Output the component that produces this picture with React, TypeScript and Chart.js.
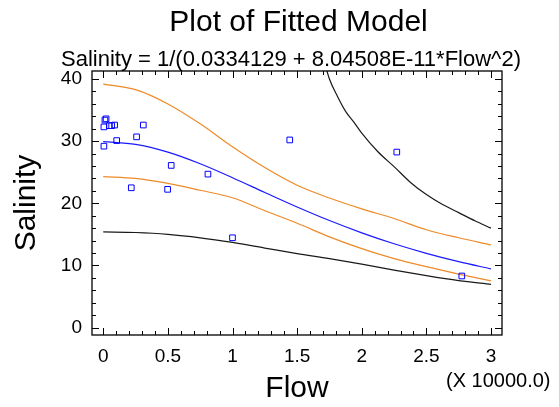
import React, { useEffect, useRef } from "react";
import { Chart, registerables } from "chart.js";

Chart.register(...registerables);

// Observed data (Flow in units of 10000)
const flowObs = [0.005, 0.013, 0.022, 0.047, 0.065, 0.088, 0.005, 0.104, 0.258, 0.31, 0.217, 0.498, 0.526, 0.81, 1.0, 1.443, 2.271, 2.774];
const salinityObs = [32.3, 33.4, 33.6, 32.5, 32.5, 32.6, 29.2, 30.1, 30.7, 32.6, 22.5, 22.25, 26.1, 24.7, 14.45, 30.2, 28.25, 8.3];

// Curves
const curveFlow = [0, 0.25, 0.5, 0.75, 1.0, 1.25, 1.5, 1.75, 2.0, 2.25, 2.5, 2.75, 3.0];
const fittedSalinity = [29.93, 29.48, 28.23, 26.36, 24.12, 21.75, 19.41, 17.23, 15.25, 13.49, 11.95, 10.61, 9.45];
const upperConfidence = [39.2, 38.3, 36.0, 32.8, 29.1, 25.75, 22.9, 20.85, 19.1, 17.55, 15.75, 14.45, 13.3];
const lowerConfidence = [24.3, 24.0, 23.2, 22.1, 20.9, 18.8, 16.8, 14.6, 12.7, 11.1, 9.8, 8.6, 7.5];
const lowerPrediction = [15.4, 15.3, 15.0, 14.45, 13.7, 12.8, 11.9, 11.1, 10.2, 9.25, 8.35, 7.55, 6.95];
const upperPredFlow = [1.7, 1.75, 1.8125, 1.875, 1.9375, 2.0, 2.125, 2.25, 2.375, 2.5, 2.625, 2.75, 2.875, 3.0];
const upperPrediction = [43.6, 40.0, 37.2, 34.8, 33.1, 31.3, 28.3, 25.9, 23.4, 21.4, 19.8, 18.5, 17.2, 16.0];

const titleText = "Plot of Fitted Model";
const subtitleText = "Salinity = 1/(0.0334129 + 8.04508E-11*Flow^2)";
const xTitle = "Flow";
const yTitle = "Salinity";
const xMultiplier = "(X 10000.0)";

const FONT = "'Liberation Sans', Arial, sans-serif";

const toPts = (xs: number[], ys: number[]) => xs.map((x, i) => ({ x, y: ys[i] }));

const framePlugin = {
  id: "framePlugin",
  afterDraw(chart: any) {
    const { ctx, chartArea, scales } = chart;
    const { left, right, top, bottom } = chartArea;
    const xs = scales.x;
    const ys = scales.y;
    ctx.save();
    ctx.strokeStyle = "#000";
    ctx.lineWidth = 1.3;
    ctx.strokeRect(left, top, right - left, bottom - top);
    ctx.lineWidth = 1;
    ctx.beginPath();
    for (let i = 0; i <= 30; i++) {
      const px = Math.round(xs.getPixelForValue(i / 10)) + 0.5;
      const len = i % 5 === 0 ? 7 : 4;
      ctx.moveTo(px, bottom);
      ctx.lineTo(px, bottom - len);
      ctx.moveTo(px, top);
      ctx.lineTo(px, top + len);
    }
    for (let i = 0; i <= 20; i++) {
      const v = i * 2;
      const py = Math.round(ys.getPixelForValue(v)) + 0.5;
      const len = v % 10 === 0 ? 7 : 4;
      ctx.moveTo(left, py);
      ctx.lineTo(left + len, py);
      ctx.moveTo(right, py);
      ctx.lineTo(right - len, py);
    }
    ctx.stroke();

    ctx.fillStyle = "#000";
    ctx.textBaseline = "alphabetic";
    ctx.textAlign = "center";
    ctx.font = `30px ${FONT}`;
    ctx.fillText(titleText, 298.5, 31);
    ctx.font = `22px ${FONT}`;
    ctx.fillText(subtitleText, 291, 66);
    ctx.textAlign = "left";
    ctx.font = `20px ${FONT}`;
    ctx.fillText(xMultiplier, 446, 387);
    ctx.restore();
  },
};

export default function App() {
  const ref = useRef<HTMLCanvasElement | null>(null);
  useEffect(() => {
    if (!ref.current) return;
    const lineDs = (label: string, xs: number[], ys: number[], color: string) => ({
      label,
      data: toPts(xs, ys),
      showLine: true,
      borderColor: color,
      borderWidth: 1.2,
      pointRadius: 0,
      pointHoverRadius: 0,
      fill: false,
      cubicInterpolationMode: "monotone" as const,
    });
    const chart = new Chart(ref.current, {
      type: "scatter",
      data: {
        datasets: [
          {
            label: "Observed",
            data: toPts(flowObs, salinityObs),
            showLine: false,
            pointStyle: "rect",
            pointRadius: 4,
            borderColor: "#0000ff",
            backgroundColor: "rgba(0,0,0,0)",
            borderWidth: 1,
          },
          lineDs("Fitted", curveFlow, fittedSalinity, "#1a1aff"),
          lineDs("Upper confidence", curveFlow, upperConfidence, "rgb(238,138,40)"),
          lineDs("Lower confidence", curveFlow, lowerConfidence, "rgb(238,138,40)"),
          lineDs("Upper prediction", upperPredFlow, upperPrediction, "#1a1a1a"),
          lineDs("Lower prediction", curveFlow, lowerPrediction, "#1a1a1a"),
        ] as any,
      },
      options: {
        animation: false,
        responsive: false,
        events: [],
        layout: { padding: { top: 71, right: 57, left: 0, bottom: 0 } },
        plugins: {
          legend: { display: false },
          tooltip: { enabled: false },
          title: { display: false },
        },
        scales: {
          x: {
            type: "linear",
            min: -0.087,
            max: 3.085,
            afterFit: (s: any) => {
              s.height = 72;
            },
            grid: { display: false, drawTicks: false },
            border: { display: false },
            ticks: {
              stepSize: 0.5,
              includeBounds: false,
              padding: 10,
              color: "#000",
              font: { family: FONT, size: 19 },
              callback: (v: any) => String(Math.round(Number(v) * 10) / 10),
              autoSkip: false,
              maxRotation: 0,
            },
            title: {
              display: true,
              text: xTitle,
              color: "#000",
              font: { family: FONT, size: 30 },
              padding: { top: 0, bottom: 0 },
            },
          },
          y: {
            type: "linear",
            min: -1.2,
            max: 41.3,
            afterFit: (s: any) => {
              s.width = 92;
            },
            grid: { display: false, drawTicks: false },
            border: { display: false },
            ticks: {
              stepSize: 10,
              includeBounds: false,
              padding: 10,
              color: "#000",
              font: { family: FONT, size: 19 },
              callback: (v: any) => String(Math.round(Number(v))),
              autoSkip: false,
            },
            title: {
              display: true,
              text: yTitle,
              color: "#000",
              font: { family: FONT, size: 30 },
              padding: { top: 9, bottom: 0 },
            },
          },
        },
      },
      plugins: [framePlugin],
    });
    return () => chart.destroy();
  }, []);
  return (
    <div style={{ position: "absolute", left: 0, top: 0, width: 559, height: 407 }}>
      <canvas ref={ref} width={559} height={407} style={{ display: "block" }} />
    </div>
  );
}
